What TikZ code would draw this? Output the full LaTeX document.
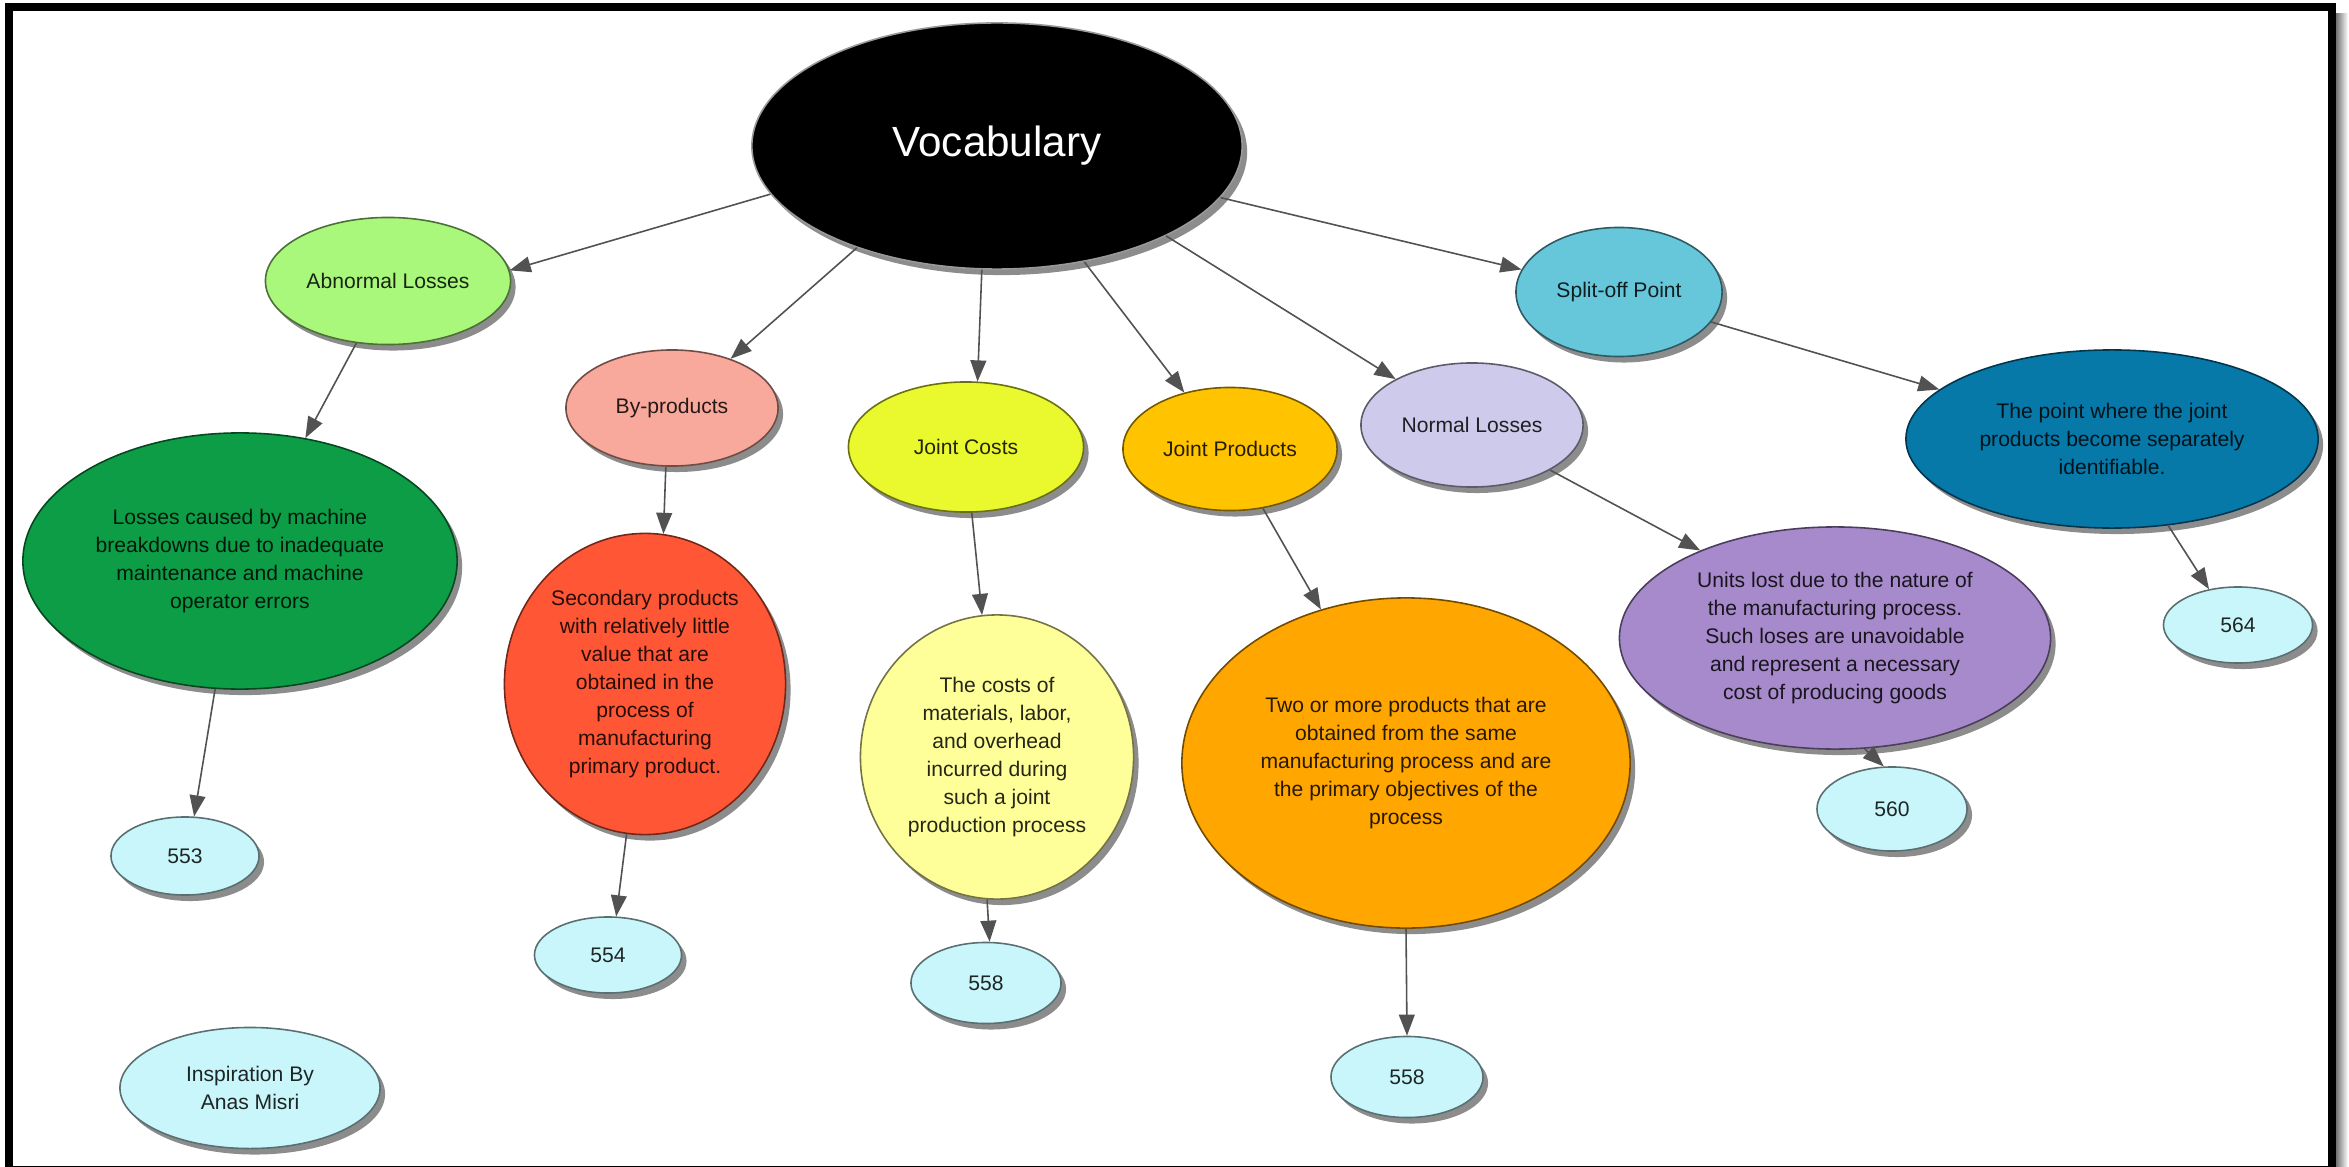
\documentclass[tikz,border=0pt]{standalone}
\usepackage{fontspec}
\setmainfont{Liberation Sans}
\usetikzlibrary{shapes.geometric,shadows,arrows.meta}

% fill colours of the bubbles
\definecolor{cVoc}{HTML}{000000}
\definecolor{cAbn}{HTML}{A9F87C}
\definecolor{cLoss}{HTML}{0E9D47}
\definecolor{cRef}{HTML}{C9F6FA}
\definecolor{cByp}{HTML}{F8A99B}
\definecolor{cSec}{HTML}{FF5636}
\definecolor{cJc}{HTML}{E9F92D}
\definecolor{cCost}{HTML}{FFFF99}
\definecolor{cJp}{HTML}{FFC300}
\definecolor{cTwo}{HTML}{FFA600}
\definecolor{cNl}{HTML}{CECAEB}
\definecolor{cUnits}{HTML}{A78ACB}
\definecolor{cSplit}{HTML}{67C7DA}
\definecolor{cPoint}{HTML}{0679A9}

\tikzset{
  bubble/.style={ellipse, inner sep=0pt, align=center, fill=#1,
    draw=#1!45!black, line width=0.45pt, text=#1!15!black,
    font=\fontsize{6pt}{8pt}\selectfont,
    drop shadow={shadow xshift=0.05cm, shadow yshift=-0.06cm,
      fill=black!45, opacity=1}},
  sz/.style 2 args={minimum width=#1cm, minimum height=#2cm},
  link/.style={draw=black!68, line width=0.45pt,
    -{Triangle[length=6pt,width=4.5pt]}},
}

\begin{document}
\begin{tikzpicture}[x=0.01cm, y=-0.01cm]
\useasboundingbox (0,0) rectangle (2349,1167);
\fill[white] (0,0) rectangle (2349,1167);

% outer frame with its shadow on the right
\shade[left color=black!55, right color=white] (2336,14) rectangle (2348,1167);
\draw[black, line width=0.08cm] (9,7) rectangle (2332,1170);

% central concept
\node[bubble=cVoc, draw=black!40, text=white, font=\fontsize{12pt}{14pt}\selectfont,
      sz={4.90}{2.46}] (voc) at (997,146) {Vocabulary};

% terms
\node[bubble=cAbn,   sz={2.45}{1.27}] (abn)   at (388,281)  {Abnormal Losses};
\node[bubble=cByp,   sz={2.12}{1.16}] (byp)   at (672,408)  {By-products};
\node[bubble=cJc,    sz={2.35}{1.30}] (jc)    at (966,447)  {Joint Costs};
\node[bubble=cJp,    sz={2.14}{1.23}] (jp)    at (1230,449) {Joint Products};
\node[bubble=cNl,    sz={2.22}{1.24}] (nl)    at (1472,425) {Normal Losses};
\node[bubble=cSplit, sz={2.06}{1.29}] (split) at (1619,292) {Split-off Point};

% definitions
\node[bubble=cLoss,  sz={4.34}{2.56}] (loss)  at (240,561)
  {Losses caused by machine\\breakdowns due to inadequate\\maintenance and machine\\operator errors};
\node[bubble=cSec,   sz={2.81}{3.01}] (sec)   at (645,684)
  {Secondary products\\with relatively little\\value that are\\obtained in the\\process of\\manufacturing\\primary product.};
\node[bubble=cCost,  sz={2.73}{2.84}] (costs) at (997,757)
  {The costs of\\materials, labor,\\and overhead\\incurred during\\such a joint\\production process};
\node[bubble=cTwo,   sz={4.48}{3.30}] (two)   at (1406,763)
  {Two or more products that are\\obtained from the same\\manufacturing process and are\\the primary objectives of the\\process};
\node[bubble=cUnits, sz={4.31}{2.22}] (units) at (1835,638)
  {Units lost due to the nature of\\the manufacturing process.\\Such loses are unavoidable\\and represent a necessary\\cost of producing goods};
\node[bubble=cPoint, sz={4.12}{1.78}] (point) at (2112,439)
  {The point where the joint\\products become separately\\identifiable.};

% page references
\node[bubble=cRef, sz={1.48}{0.78}] (p553)  at (185,856)   {553};
\node[bubble=cRef, sz={1.47}{0.76}] (p554)  at (608,955)   {554};
\node[bubble=cRef, sz={1.50}{0.81}] (p558a) at (986,983)   {558};
\node[bubble=cRef, sz={1.52}{0.81}] (p558b) at (1407,1077) {558};
\node[bubble=cRef, sz={1.50}{0.84}] (p560)  at (1892,809)  {560};
\node[bubble=cRef, sz={1.49}{0.76}] (p564)  at (2238,625)  {564};
\node[bubble=cRef, sz={2.60}{1.21}] (insp)  at (250,1088)  {Inspiration By\\Anas Misri};

% connectors
\draw[link] (voc.192.2) -- (abn.5.2);
\draw[link] (voc.216.8) -- (byp.40.2);
\draw[link] (voc.263.6) -- (jc.80.4);
\draw[link] (voc.307.2) -- (jp.129.5);
\draw[link] (voc.332)   -- (nl.149.2);
\draw[link] (voc.347.7) -- (split.167.2);

\draw[link] (abn.243.8)   -- (loss.62.2);
\draw[link] (loss.259.9)  -- (p553.77.3);
\draw[link] (byp.264.4)   -- (sec.83.6);
\draw[link] (sec.263.2)   -- (p554.78.7);
\draw[link] (jc.275.2)    -- (costs.96.3);
\draw[link] (costs.266.8) -- (p558a.85.9);
\draw[link] (jp.299.1)    -- (two.119.9);
\draw[link] (two.270.3)   -- (p558b.90);
\draw[link] (nl.330.4)    -- (units.147.3);
\draw[link] (units.285.3) -- (p560.101.9);
\draw[link] (split.342)   -- (point.164.7);
\draw[link] (point.303.5) -- (p564.129.2);
\end{tikzpicture}
\end{document}
